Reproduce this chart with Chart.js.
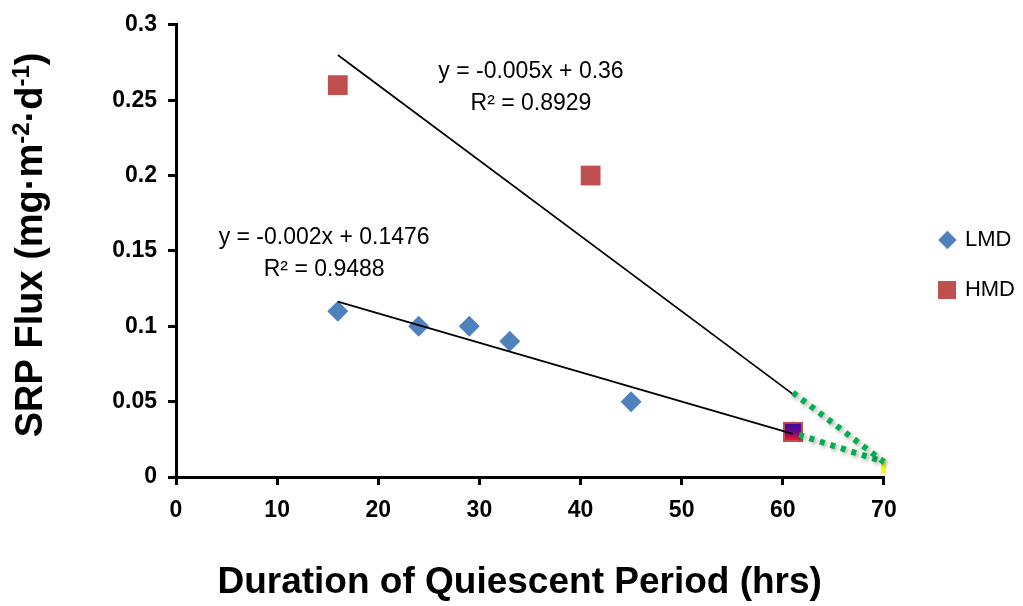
<!DOCTYPE html>
<html>
<head>
<meta charset="utf-8">
<title>SRP Flux vs Duration of Quiescent Period</title>
<script src="https://cdn.jsdelivr.net/npm/chart.js"></script>
<style>
  html, body { margin: 0; padding: 0; background: #fff; }
  canvas { display: block; }
</style>
</head>
<body>
<canvas id="fluxChart" width="1023" height="606"></canvas>
<script>
// values
const lmdHours = [16, 24, 29, 33, 45, 61];
const lmdFlux = [0.11, 0.10, 0.10, 0.09, 0.05, 0.03];
const hmdHours = [16, 41, 61];
const hmdFlux = [0.26, 0.20, 0.03];

// linear trendlines, end points
const lmdTrendHours = [16, 61];
const lmdTrendFlux = [0.1164, 0.0286];
const hmdTrendHours = [16, 61];
const hmdTrendFlux = [0.28, 0.055];

// green dotted extensions, the overlap mark and the end mark
const extUpperHours = [61, 70];
const extUpperFlux = [0.056, 0.01];
const extLowerHours = [61.6, 70];
const extLowerFlux = [0.028, 0.01];
const overlapHours = [61];
const overlapFlux = [0.03];
const endHours = [70];
const endFlux = [0.007];

const xTickValues = [0, 10, 20, 30, 40, 50, 60, 70];
const yTickValues = [0, 0.05, 0.1, 0.15, 0.2, 0.25, 0.3];
const yTickLabels = ['0', '0.05', '0.1', '0.15', '0.2', '0.25', '0.3'];

const equationTexts = ['y = -0.005x + 0.36', 'R² = 0.8929', 'y = -0.002x + 0.1476', 'R² = 0.9488'];
// where the equation text sits, in data units (hours, flux at baseline)
const equationPlace = [[35.1, 0.265], [35.1, 0.2435], [14.65, 0.1545], [14.65, 0.1335]];

const yTitleParts = [['SRP Flux (mg·m', false], ['-2', true], ['·d', false], ['-1', true], [')', false]];
const xTitle = 'Duration of Quiescent Period (hrs)  ';

const FONT = '"Liberation Sans", Arial, sans-serif';
Chart.defaults.font.family = FONT;
Chart.defaults.color = '#000';

function pts(xs, ys) {
  return xs.map((x, i) => ({ x: x, y: ys[i] }));
}

function boxCanvas(w, h, draw) {
  const c = document.createElement('canvas');
  c.width = w;
  c.height = h;
  draw(c.getContext('2d'), w, h);
  return c;
}

// the blue/red square where both series meet at 61 hrs
const overlapMarker = boxCanvas(20, 20, (g, w, h) => {
  g.fillStyle = '#c0504d';
  g.fillRect(0, 0, w, h);
  const grad = g.createLinearGradient(0, 2, 0, h - 2);
  grad.addColorStop(0, '#3a0ca0');
  grad.addColorStop(0.5, '#6a0a88');
  grad.addColorStop(0.8, '#c00c50');
  grad.addColorStop(1, '#f0102c');
  g.fillStyle = grad;
  g.fillRect(2, 2, w - 4, h - 4);
});
const endMarker = boxCanvas(5, 14, (g, w, h) => {
  g.fillStyle = '#ffff00';
  g.fillRect(0, 0, w, h);
});
const hmdLegendMarker = boxCanvas(18, 18, (g, w, h) => {
  g.fillStyle = '#c0504d';
  g.fillRect(0, 0, w, h);
});

// soft shadow under the green dotted lines
const shadowPlugin = {
  id: 'lineShadow',
  beforeDatasetDraw(chart, args) {
    if (!chart.data.datasets[args.index].shadow) return;
    const ctx = chart.ctx;
    ctx.save();
    ctx.shadowColor = 'rgba(0,0,0,0.35)';
    ctx.shadowBlur = 4;
    ctx.shadowOffsetX = 2;
    ctx.shadowOffsetY = 2;
  },
  afterDatasetDraw(chart, args) {
    if (chart.data.datasets[args.index].shadow) chart.ctx.restore();
  }
};

const equationPlugin = {
  id: 'equations',
  afterDatasetsDraw(chart) {
    const ctx = chart.ctx;
    const { x, y } = chart.scales;
    ctx.save();
    ctx.font = '23px ' + FONT;
    ctx.fillStyle = '#000';
    ctx.textAlign = 'center';
    ctx.textBaseline = 'alphabetic';
    equationTexts.forEach((t, i) => {
      ctx.fillText(t, x.getPixelForValue(equationPlace[i][0]), y.getPixelForValue(equationPlace[i][1]));
    });
    ctx.restore();
  }
};

// rotated y title with superscripts
const yTitlePlugin = {
  id: 'yTitle',
  afterDraw(chart) {
    const ctx = chart.ctx;
    const mainFont = 'bold 38px ' + FONT;
    const supFont = 'bold 24px ' + FONT;
    ctx.save();
    let total = 0;
    const widths = yTitleParts.map(([t, sup]) => {
      ctx.font = sup ? supFont : mainFont;
      const w = ctx.measureText(t).width;
      total += w;
      return w;
    });
    const area = chart.chartArea;
    ctx.translate(42, (area.top + area.bottom) / 2 - 6);
    ctx.rotate(-Math.PI / 2);
    ctx.fillStyle = '#000';
    ctx.textBaseline = 'alphabetic';
    let pos = -total / 2;
    yTitleParts.forEach(([t, sup], i) => {
      ctx.font = sup ? supFont : mainFont;
      ctx.fillText(t, pos, sup ? -13 : 0);
      pos += widths[i];
    });
    ctx.restore();
  }
};

// put the legend where it sits in the figure
const legendPlacement = {
  id: 'legendPlacement',
  afterLayout(chart) {
    const lg = chart.legend;
    const left = chart.chartArea.right + 29;
    lg.left = left;
    lg.right = left + lg.width;
    lg.top = 201;
    lg.bottom = chart.height;
  }
};

const axisGrid = {
  drawOnChartArea: false,
  drawTicks: true,
  tickLength: 8,
  color: '#000',
  lineWidth: 3
};

new Chart(document.getElementById('fluxChart'), {
  type: 'scatter',
  data: {
    datasets: [
      {
        label: 'LMD',
        data: pts(lmdHours, lmdFlux),
        pointStyle: 'rectRot',
        pointRadius: 10.5,
        backgroundColor: '#4f81bd',
        borderColor: '#4f81bd',
        borderWidth: 0,
        order: 4
      },
      {
        label: 'HMD',
        data: pts(hmdHours, hmdFlux),
        pointStyle: 'rect',
        pointRadius: 14,
        backgroundColor: '#c0504d',
        borderColor: '#c0504d',
        borderWidth: 0,
        order: 5
      },
      {
        label: 'overlap',
        data: pts(overlapHours, overlapFlux),
        pointStyle: overlapMarker,
        pointRadius: 10,
        order: 3
      },
      {
        label: 'LMD trend',
        data: pts(lmdTrendHours, lmdTrendFlux),
        showLine: true,
        pointRadius: 0,
        borderColor: '#000',
        borderWidth: 1.75,
        order: 2
      },
      {
        label: 'HMD trend',
        data: pts(hmdTrendHours, hmdTrendFlux),
        showLine: true,
        pointRadius: 0,
        borderColor: '#000',
        borderWidth: 1.75,
        order: 2
      },
      {
        label: 'end',
        data: pts(endHours, endFlux),
        pointStyle: endMarker,
        pointRadius: 5,
        order: 1
      },
      {
        label: 'upper extension',
        data: pts(extUpperHours, extUpperFlux),
        showLine: true,
        pointRadius: 0,
        borderColor: '#00b050',
        borderWidth: 6,
        borderDash: [5, 6],
        borderCapStyle: 'butt',
        shadow: true,
        order: 0
      },
      {
        label: 'lower extension',
        data: pts(extLowerHours, extLowerFlux),
        showLine: true,
        pointRadius: 0,
        borderColor: '#00b050',
        borderWidth: 6,
        borderDash: [5, 6],
        borderCapStyle: 'butt',
        shadow: true,
        order: 0
      }
    ]
  },
  options: {
    responsive: false,
    animation: false,
    devicePixelRatio: 1,
    clip: false,
    layout: { padding: { top: 20, right: 27, bottom: 0, left: 0 } },
    plugins: {
      tooltip: { enabled: false },
      legend: {
        position: 'right',
        align: 'start',
        labels: {
          usePointStyle: true,
          boxWidth: 13,
          boxHeight: 13,
          padding: 28,
          color: '#000',
          font: { size: 22 },
          generateLabels(chart) {
            const items = Chart.defaults.plugins.legend.labels.generateLabels(chart);
            return items
              .filter(it => it.text === 'LMD' || it.text === 'HMD')
              .map(it => {
                if (it.text === 'HMD') it.pointStyle = hmdLegendMarker;
                return it;
              });
          }
        }
      }
    },
    scales: {
      x: {
        type: 'linear',
        min: 0,
        max: 70,
        afterBuildTicks: s => { s.ticks = xTickValues.map(v => ({ value: v })); },
        afterFit: s => { s.height = 129; },
        ticks: { font: { size: 23, weight: 'bold' }, color: '#000', padding: 12 },
        grid: axisGrid,
        border: { color: '#000', width: 3 },
        title: {
          display: true,
          text: xTitle,
          color: '#000',
          font: { size: 37, weight: 'bold' },
          padding: { top: 0, bottom: 1 }
        }
      },
      y: {
        type: 'linear',
        min: 0,
        max: 0.3,
        afterBuildTicks: s => { s.ticks = yTickValues.map(v => ({ value: v })); },
        afterFit: s => { s.width = 176; },
        ticks: {
          font: { size: 23, weight: 'bold' },
          color: '#000',
          padding: 11,
          callback: (v, i) => yTickLabels[i]
        },
        grid: axisGrid,
        border: { color: '#000', width: 3 }
      }
    }
  },
  plugins: [shadowPlugin, equationPlugin, yTitlePlugin, legendPlacement]
});
</script>
</body>
</html>
